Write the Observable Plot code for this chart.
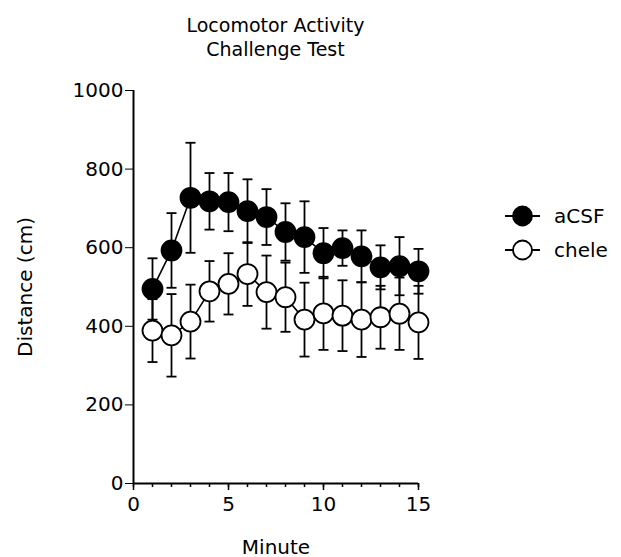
<!DOCTYPE html>
<html><head><meta charset="utf-8">
<script src="https://cdn.jsdelivr.net/npm/d3@7"></script>
<script src="https://cdn.jsdelivr.net/npm/@observablehq/plot@0.6"></script>
<style>
body{margin:0;background:#fff;}
#wrap{position:relative;width:621px;height:557px;font-family:"DejaVu Sans",sans-serif;color:#000;}
#title{position:absolute;left:0;top:13px;width:551px;text-align:center;font-size:19px;line-height:24px;}
#chart{position:absolute;left:0;top:62px;}
#legend{position:absolute;left:490px;top:195px;}
</style></head><body>
<div id="wrap">
<div id="title">Locomotor Activity<br>Challenge Test</div>
<div id="chart"></div>
<svg id="legend" width="131" height="75"></svg>
</div>
<script>
const minutes = [1,2,3,4,5,6,7,8,9,10,11,12,13,14,15];
const acsfMean = [495,593,727,718,716,693,678,640,627,586,599,578,550,553,540];
const acsfErr  = [78,95,140,72,74,81,71,73,91,64,45,66,56,74,57];
const cheleMean = [389,377,412,489,508,533,487,474,417,433,427,417,423,432,410];
const cheleErr  = [80,105,94,77,78,81,93,88,94,93,90,95,80,92,93];
const seriesNames = ["aCSF","chele"];
const seriesFill = ["black","white"];
const yTicks = [0,200,400,600,800,1000];
const xMajorTicks = [0,5,10,15];
const xMinorTicks = d3.range(0,16);

const rows = [];
minutes.forEach((m,i)=>{
  rows.push({series:"chele", minute:m, mean:cheleMean[i], err:cheleErr[i]});
});
minutes.forEach((m,i)=>{
  rows.push({series:"aCSF", minute:m, mean:acsfMean[i], err:acsfErr[i]});
});
const fillOf = s => seriesFill[seriesNames.indexOf(s)];

const capSymbol = {draw(ctx){ ctx.moveTo(-5,0); ctx.lineTo(5,0); }};

function seriesMarks(name){
  const d = rows.filter(r=>r.series===name);
  return [
    Plot.ruleX(d,{x:"minute", y1:d=>d.mean-d.err, y2:d=>d.mean+d.err, stroke:"black", strokeWidth:1.8}),
    Plot.dot(d,{x:"minute", y:d=>d.mean+d.err, symbol:capSymbol, r:5, stroke:"black", strokeWidth:1.8, fill:"none"}),
    Plot.dot(d,{x:"minute", y:d=>d.mean-d.err, symbol:capSymbol, r:5, stroke:"black", strokeWidth:1.8, fill:"none"}),
    Plot.line(d,{x:"minute", y:"mean", stroke:"black", strokeWidth:1.6}),
    Plot.dot(d,{x:"minute", y:"mean", r:10, fill:fillOf(name), stroke:"black", strokeWidth:1.8})
  ];
}

const chart = Plot.plot({
  width:621, height:495,
  marginLeft:133, marginRight:203, marginTop:28, marginBottom:74,
  style:{fontFamily:"DejaVu Sans", fontSize:"20px", color:"black", background:"white"},
  x:{domain:[0,15]},
  y:{domain:[0,1000]},
  marks:[
    Plot.axisY({ticks:yTicks, tickFormat:d3.format("d"), tickSize:8, tickPadding:2, fontSize:20, label:"Distance (cm)", labelAnchor:"center", labelArrow:"none", labelOffset:116}),
    Plot.axisX({ticks:xMinorTicks, tickSize:4, text:null, label:null, strokeWidth:1.5}),
    Plot.axisX({ticks:xMajorTicks, tickFormat:d3.format("d"), tickSize:7, tickPadding:6, fontSize:20, strokeWidth:1.5, label:"Minute", labelAnchor:"center", labelArrow:"none", labelOffset:70}),
    Plot.ruleX([0],{y1:0, y2:1000, stroke:"black", strokeWidth:2}),
    Plot.ruleY([0],{x1:0, x2:15, stroke:"black", strokeWidth:2}),
    ...seriesMarks("chele"),
    ...seriesMarks("aCSF")
  ]
});
document.getElementById("chart").appendChild(chart);

// legend
const lg = d3.select("#legend");
seriesNames.forEach((name,i)=>{
  const cy = 21 + i*34;
  lg.append("line").attr("x1",15).attr("x2",50).attr("y1",cy).attr("y2",cy).attr("stroke","black").attr("stroke-width",1.8);
  lg.append("circle").attr("cx",32.5).attr("cy",cy).attr("r",9.5).attr("fill",seriesFill[i]).attr("stroke","black").attr("stroke-width",1.8);
  lg.append("text").attr("x",64).attr("y",cy).attr("dy","0.35em").attr("font-size",20).attr("font-family","DejaVu Sans").text(name);
});
</script>
</body></html>
